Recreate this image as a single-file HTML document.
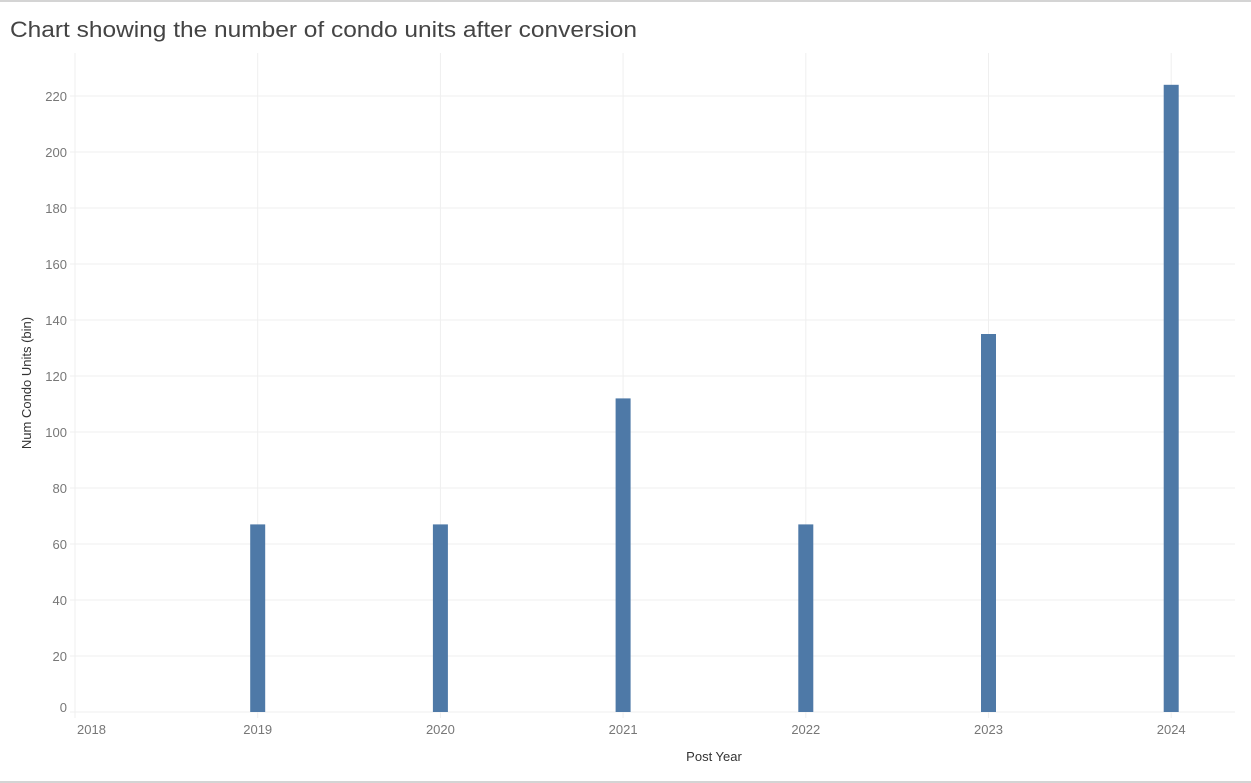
<!DOCTYPE html>
<html><head><meta charset="utf-8"><style>
html,body{margin:0;padding:0;background:#fff;}
svg{display:block;font-family:"Liberation Sans",sans-serif;}
</style></head><body>
<svg id="chart" width="1251" height="783" viewBox="0 0 1251 783">
<line x1="0" y1="1" x2="1251" y2="1" stroke="#d4d4d4" stroke-width="2"/>
<line x1="0" y1="782" x2="1251" y2="782" stroke="#d4d4d4" stroke-width="2"/>
<text x="10" y="37" font-size="22" fill="#444" textLength="627" lengthAdjust="spacingAndGlyphs">Chart showing the number of condo units after conversion</text>
<text transform="translate(31,383) rotate(-90)" text-anchor="middle" font-size="13" fill="#333">Num Condo Units (bin)</text>
<text x="714" y="761" text-anchor="middle" font-size="13" fill="#333">Post Year</text>
<g id="grid"></g><g id="bars"></g><g id="labels"></g>
</svg>
<script>
const years = [2018, 2019, 2020, 2021, 2022, 2023, 2024];
const values = [0, 67, 67, 112, 67, 135, 224];
const yTicks = [0, 20, 40, 60, 80, 100, 120, 140, 160, 180, 200, 220];
const NS = "http://www.w3.org/2000/svg";
const x = i => 75 + i * 182.7;
const y = v => 712 - v * 2.8;
function mk(tag, attrs, parent, text) {
  const e = document.createElementNS(NS, tag);
  for (const k in attrs) e.setAttribute(k, attrs[k]);
  if (text !== undefined) e.textContent = text;
  document.getElementById(parent).appendChild(e);
  return e;
}
yTicks.forEach(t => {
  const g = mk("line", {x1: 70, x2: 1235, y1: y(t), y2: y(t), stroke: "#efefef", "stroke-width": 1}, "grid");
  
  
  const l = mk("text", {x: 67, y: (t === 0 ? y(t) - 5 : y(t)) + 5, "text-anchor": "end", "font-size": 13, fill: "#777"}, "labels", String(t));
  
  
});
years.forEach((yr, i) => {
  const g = mk("line", {x1: x(i), x2: x(i), y1: 53, y2: 718, stroke: "#efefef", "stroke-width": 1}, "grid");
  
  
  const l = mk("text", {x: i === 0 ? 77 : x(i), y: 734, "text-anchor": i === 0 ? "start" : "middle", "font-size": 13, fill: "#777"}, "labels", String(yr));
  
  
  if (values[i] > 0) {
    const b = mk("rect", {x: x(i) - 7.5, y: y(values[i]), width: 15, height: y(0) - y(values[i]), fill: "#4e79a7"}, "bars");
    
    
  }
});
</script>
</body></html>
